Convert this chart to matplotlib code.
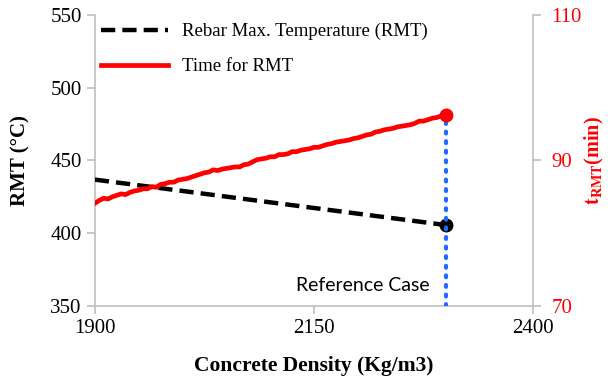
import matplotlib
matplotlib.use("Agg")
import matplotlib.pyplot as plt
import numpy as np

# Concrete density (kg/m3)
density = np.arange(1900, 2301, 5)

# Rebar maximum temperature (deg C)
rmt_density = [1900, 2000, 2100, 2200, 2300]
rmt_values = [436.8, 429.0, 421.2, 413.4, 405.6]

# Time to reach the rebar maximum temperature (min)
t_rmt = [84.1, 84.5, 84.8, 84.7, 85.0, 85.2, 85.4, 85.3, 85.6, 85.8,
         85.9, 86.1, 86.1, 86.4, 86.3, 86.7, 86.8, 87.0, 87.0, 87.3,
         87.4, 87.5, 87.7, 87.9, 88.1, 88.3, 88.4, 88.7, 88.6, 88.8,
         88.9, 89.0, 89.1, 89.1, 89.4, 89.5, 89.8, 90.1, 90.2, 90.3,
         90.5, 90.5, 90.8, 90.8, 90.9, 91.2, 91.2, 91.4, 91.5, 91.6,
         91.8, 91.8, 92.0, 92.2, 92.3, 92.5, 92.6, 92.7, 92.8, 93.0,
         93.1, 93.3, 93.5, 93.6, 93.9, 94.0, 94.2, 94.3, 94.4, 94.6,
         94.7, 94.8, 94.9, 95.1, 95.4, 95.4, 95.6, 95.8, 95.9, 96.1,
         96.3]

ref_density = 2300
ref_label = "Reference Case"

x_ticks = [1900, 2150, 2400]
y_ticks = [350, 400, 450, 500, 550]
y2_ticks = [70, 90, 110]

plt.rcParams["font.family"] = ["Liberation Serif", "DejaVu Serif"]
plt.rcParams["mathtext.fontset"] = "stix"

grey = "#bfbfbf"
red = "#ff0000"
blue = "#1f6bff"

fig = plt.figure(figsize=(6.08, 3.81), dpi=100)
ax = fig.add_axes([0.156, 0.197, 0.721, 0.764])
ax2 = ax.twinx()

# reference case marker line
ax2.plot([ref_density, ref_density], [70, t_rmt[-1]], color=blue,
         linestyle=(0, (0.45, 1.85)), linewidth=3.0, dash_capstyle="round",
         zorder=1)

ln1, = ax.plot(rmt_density, rmt_values, color="black", linestyle=(0, (3.2, 1.6)),
               linewidth=3.2, label="Rebar Max. Temperature (RMT)", zorder=3)
ax.plot(rmt_density[-1], rmt_values[-1], "o", color="black", markersize=9, zorder=4)

ln2, = ax2.plot(density, t_rmt, color=red, linewidth=3.4,
                label="Time for RMT", zorder=3)
ax2.plot(density[-1], t_rmt[-1], "o", color=red, markersize=9, zorder=4)

ax.set_xlim(1900, 2400)
ax.set_ylim(350, 550)
ax2.set_ylim(70, 110)
ax.set_xticks(x_ticks)
ax.set_yticks(y_ticks)
ax2.set_yticks(y2_ticks)

for a in (ax, ax2):
    for s in a.spines.values():
        s.set_color(grey)
        s.set_linewidth(1.2)
    a.spines["top"].set_visible(False)
    a.tick_params(color=grey, length=6, width=1.2, labelsize=15)
ax2.spines["left"].set_visible(False)
ax2.spines["bottom"].set_visible(False)
ax.spines["right"].set_visible(False)
ax2.tick_params(axis="y", labelcolor=red, pad=7)

ax.set_xlabel("Concrete Density (Kg/m3)", fontsize=15.5, fontweight="bold", labelpad=13)
ax.set_ylabel("RMT (°C)", fontsize=15, fontweight="bold", labelpad=14)
ax2.set_ylabel(r"$\mathbf{t_{RMT}}$(min)", fontsize=14.5, fontweight="bold",
               color=red, labelpad=1)

ax.text(2282, 358, ref_label, ha="right", va="bottom", fontsize=14,
        family=["Lato", "DejaVu Sans"])

leg = ax.legend(handles=[ln1, ln2], loc="upper left", frameon=False,
                fontsize=13.5, handlelength=3.6, handletextpad=0.75,
                borderaxespad=0.0, borderpad=0.2,
                labelspacing=0.95, bbox_to_anchor=(0.005, 0.985))

fig.savefig("out.png", dpi=100)
